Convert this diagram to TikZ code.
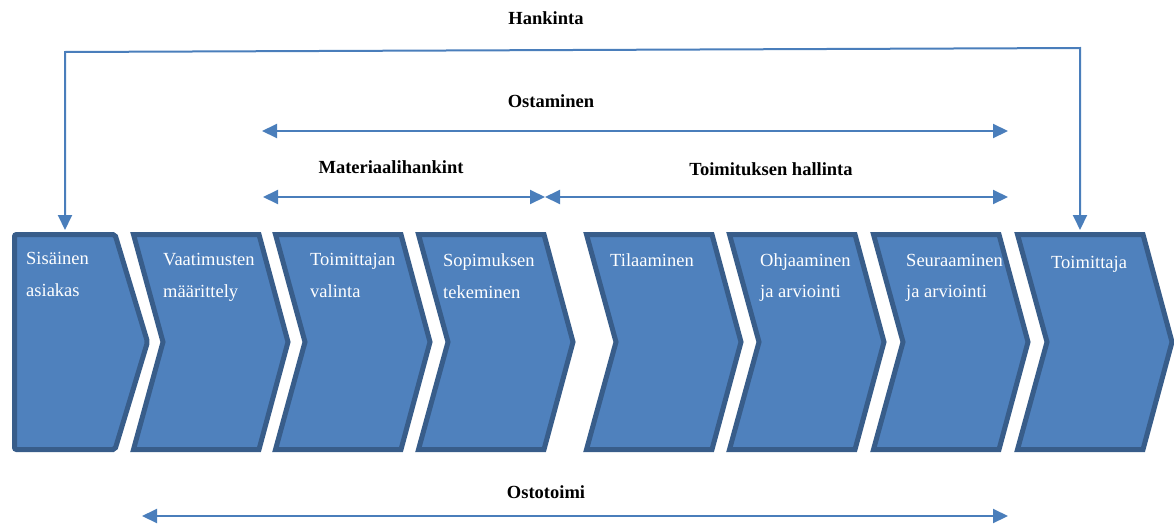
\documentclass[tikz,border=0pt]{standalone}
\usepackage{fontspec}
\setmainfont{Liberation Serif}
\usetikzlibrary{arrows.meta}
\definecolor{chevfill}{HTML}{4F81BD}
\definecolor{chevline}{HTML}{385D8A}
\definecolor{arrline}{HTML}{4A7EBB}
\begin{document}
\begin{tikzpicture}[x=1pt,y=-1pt,
  chev/.style={fill=chevfill,draw=chevline,line width=5pt,line join=miter},
  lbl/.style={text=white,anchor=base west,inner sep=0pt,font=\fontsize{18.5}{22}\selectfont},
  ttl/.style={font=\fontsize{18.5}{22}\selectfont\bfseries,inner sep=0pt,anchor=base},
  conn/.style={draw=arrline,line width=2pt,line join=miter},
  dbl/.style={conn,{Triangle[length=15pt,width=14pt]}-{Triangle[length=15pt,width=14pt]}}]
\useasboundingbox (0,0) rectangle (1174,525);

% chevrons
\draw[chev,rounded corners=2pt] (14.5,234.5) -- (115,234.5) -- (147.5,342) -- (115,449.5) -- (14.5,449.5) -- cycle;
\foreach \L in {131,273,416,584,727,871,1015}{
  \draw[chev] (\L+2.5,234.5) -- (\L+128,234.5) -- (\L+157,342) -- (\L+128,449.5) -- (\L+2.5,449.5) -- (\L+32,342) -- cycle;
}

% chevron texts
\node[lbl] (t1a) at (26,264) {Sisäinen};
\node[lbl] (t1b) at (26,296) {asiakas};
\node[lbl] (t2a) at (163,265) {Vaatimusten};
\node[lbl] (t2b) at (163,297) {määrittely};
\node[lbl] (t3a) at (310,265) {Toimittajan};
\node[lbl] (t3b) at (310,297) {valinta};
\node[lbl] (t4a) at (443,266) {Sopimuksen};
\node[lbl] (t4b) at (443,298) {tekeminen};
\node[lbl] (t5a) at (610,266) {Tilaaminen};
\node[lbl] (t6a) at (760,266) {Ohjaaminen};
\node[lbl] (t6b) at (760,297) {ja arviointi};
\node[lbl] (t7a) at (906,266) {Seuraaminen};
\node[lbl] (t7b) at (906,297) {ja arviointi};
\node[lbl] (t8a) at (1051,268) {Toimittaja};

% titles
\node[ttl] (hank) at (546,24) {Hankinta};
\node[ttl] (osta) at (551,107) {Ostaminen};
\node[ttl] (mate) at (391,173) {Materiaalihankint};
\node[ttl] (toim) at (771,175) {Toimituksen hallinta};
\node[ttl] (osto) at (546,498) {Ostotoimi};

% connector ends
\coordinate (hA) at (65,230);
\coordinate (hB) at (65,52);
\coordinate (hC) at (1080,48);
\coordinate (hD) at (1080,230);
\coordinate (oL) at (262,131);
\coordinate (oR) at (1008,131);
\coordinate (mL) at (263,197);
\coordinate (mR) at (545,197);
\coordinate (tL) at (545,197);
\coordinate (tR) at (1008,197);
\coordinate (sL) at (142,516);
\coordinate (sR) at (1008,516);

\draw[dbl] (hA) -- (hB) -- (hC) -- (hD);
\draw[dbl] (oL) -- (oR);
\draw[dbl] (mL) -- (mR);
\draw[dbl] (tL) -- (tR);
\draw[dbl] (sL) -- (sR);
\end{tikzpicture}
\end{document}
